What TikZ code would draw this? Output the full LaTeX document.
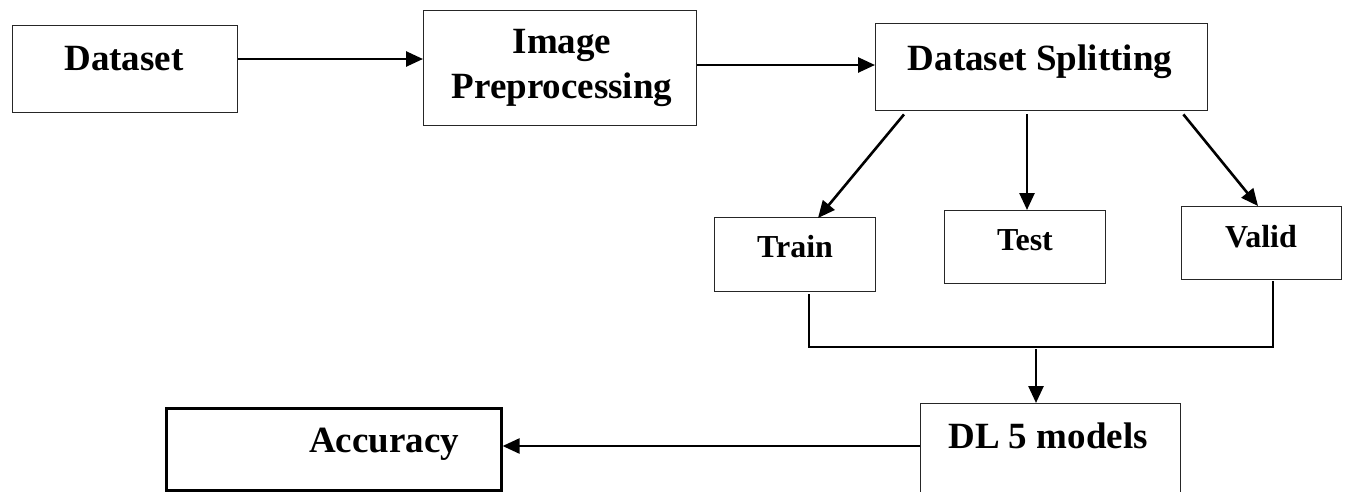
\documentclass[tikz,border=0pt]{standalone}
\usepackage{fontspec}
\setmainfont{Liberation Serif}
\usetikzlibrary{arrows.meta}
\tikzset{
  boxline/.style={draw=black!85, line width=1.4pt},
  thickbox/.style={draw=black, line width=2.6pt},
  flow/.style={line width=2.6pt, -{Triangle[length=17pt,width=15pt]}},
  thin/.style={line width=1.4pt},
  big/.style={font=\fontsize{37}{43}\selectfont\bfseries, inner sep=0pt, anchor=base},
  small/.style={font=\fontsize{32}{38}\selectfont\bfseries, inner sep=0pt, anchor=base},
  blank/.style={boxline, inner sep=0pt, anchor=north west, rectangle}
}
\begin{document}
\begin{tikzpicture}[x=1pt,y=-1pt]
\useasboundingbox (0,0) rectangle (1347,491);
\clip (0,0) rectangle (1347,491);
% boxes
\node[blank, minimum width=225pt, minimum height=87pt] (ds) at (12,25) {};
\node[blank, minimum width=273pt, minimum height=115pt] (ip) at (423,10) {};
\node[blank, minimum width=332pt, minimum height=87pt] (sp) at (875,23) {};
\node[blank, minimum width=161pt, minimum height=74pt] (tr) at (714,217) {};
\node[blank, minimum width=161pt, minimum height=73pt] (te) at (944,210) {};
\node[blank, minimum width=160pt, minimum height=73pt] (va) at (1181,206) {};
\node[blank, minimum width=260pt, minimum height=120pt] (dl) at (920,403) {};
\node[thickbox, inner sep=0pt, anchor=north west, minimum width=335pt, minimum height=82pt] (ac) at (165,407) {};
% texts
\node[big] (tds) at (124,70) {Dataset};
\node[big] (tip1) at (562,53) {Image};
\node[big] (tip2) at (562,98) {Preprocessing};
\node[big] (tsp) at (1040,70) {Dataset Splitting};
\node[small] (ttr) at (795,257) {Train};
\node[small] (tte) at (1025,250) {Test};
\node[small] (tva) at (1261,247) {Valid};
\node[big] (tdl) at (1048,448) {DL 5 models};
\node[big] (tac) at (384,452) {Accuracy};
% connectors
\coordinate (b1) at (809,347);
\coordinate (b2) at (1273,347);
\coordinate (bm) at (1036,349);
\draw[flow] (ds.east |- 0,59) -- (ip.west |- 0,59);
\draw[flow] (ip.east |- 0,65) -- (sp.west |- 0,65);
\draw[flow] ([xshift=29pt,yshift=-3pt]sp.south west) -- ([xshift=104pt,yshift=-1pt]tr.north west);
\draw[flow] ([yshift=-3pt]sp.south -| 1027,0) -- (te.north -| 1027,0);
\draw[flow] ([xshift=-25pt,yshift=-3pt]sp.south east) -- ([xshift=77pt]va.north west);
\draw[thin] ([yshift=-2pt]tr.south -| b1) -- (b1) -- (b2) -- ([yshift=-1pt]va.south -| b2);
\draw[flow] (bm) -- (dl.north -| bm);
\draw[flow] (dl.west |- 0,446) -- (ac.east |- 0,446);
\end{tikzpicture}
\end{document}
